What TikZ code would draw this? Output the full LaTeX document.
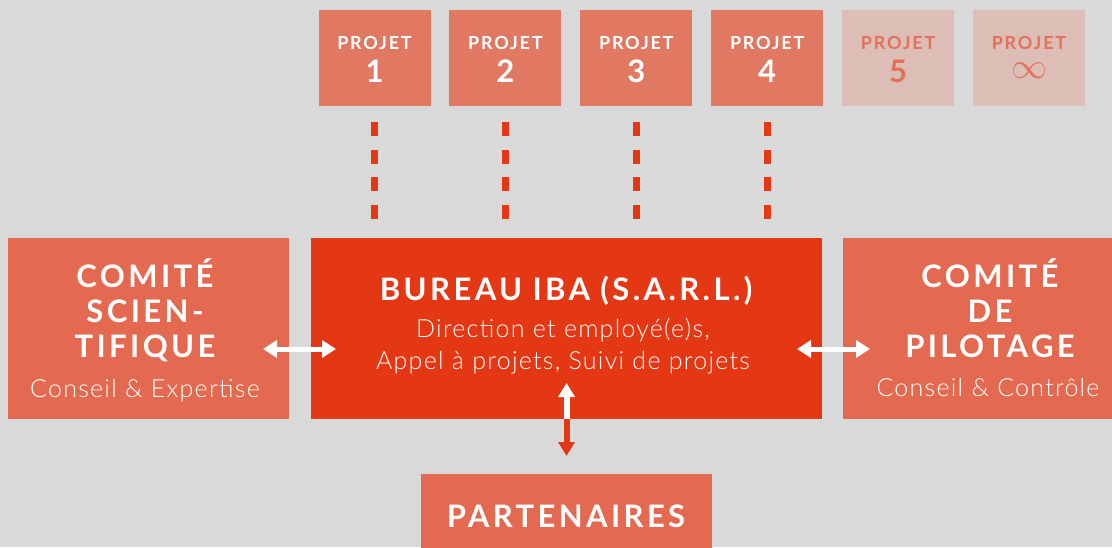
\documentclass[tikz,border=0pt]{standalone}
\usepackage{fontspec}
\setmainfont{Lato}
\newfontfamily\lightfont{Lato Light}
\usetikzlibrary{arrows.meta,calc,positioning}
\definecolor{bgc}{HTML}{D9D9D9}
\definecolor{projc}{HTML}{E07862}
\definecolor{fadec}{HTML}{DCBEB7}
\definecolor{fadetxt}{HTML}{E4705A}
\definecolor{sidec}{HTML}{E36A50}
\definecolor{bureauc}{HTML}{E43815}
\tikzset{
  blk/.style={fill=#1, inner sep=0pt, outer sep=0pt},
  headtxt/.style={text=white, inner sep=0pt, align=center, text width=280pt,
    font=\fontsize{31}{35}\selectfont\bfseries\addfontfeature{LetterSpace=11}},
  subtxt/.style={text=white, inner sep=0pt, align=center, text width=440pt,
    font=\lightfont\fontsize{25}{32}\selectfont\addfontfeature{LetterSpace=5}},
  projtxt/.style={inner sep=0pt, font=\fontsize{18}{18}\selectfont\bfseries\addfontfeature{LetterSpace=10}},
  projnum/.style={inner sep=0pt, font=\fontsize{31}{31}\selectfont\bfseries},
  dbl/.style={white, line width=5pt, {Triangle[length=14pt,width=17pt]}-{Triangle[length=14pt,width=17pt]}},
  tie/.style={bureauc, line width=7pt, dash pattern=on 14pt off 13.5pt},
}
\begin{document}
\begin{tikzpicture}[x=1pt,y=-1pt]
\fill[bgc] (0,0) rectangle (1112,547);
\clip (0,0) rectangle (1112,547);

% projets
\foreach \i/\c/\t in {1/projc/white,2/projc/white,3/projc/white,4/projc/white,5/fadec/fadetxt} {
  \pgfmathsetmacro\x{374.5+130.9*(\i-1)}
  \node[blk=\c, minimum width=112pt, minimum height=96pt] (p\i) at (\x,58) {};
  \node[projtxt, text=\t, anchor=base] (pt\i) at (\x,49) {PROJET};
  \node[projnum, text=\t, anchor=base] (pn\i) at (\x,82) {\i};
}
\node[blk=fadec, minimum width=112pt, minimum height=96pt] (p6) at (1029,58) {};
\node[projtxt, text=fadetxt, anchor=base] (pt6) at (p6 |- pt5.base) {PROJET};
\node[inner sep=0pt, text=fadetxt, scale=3.6, anchor=base] (pn6) at ($(p6 |- pn5.base)+(0,-3.5)$) {$\infty$};

% blocs
\node[blk=sidec, minimum width=281pt, minimum height=181pt] (comsci) at (148.5,328.5) {};
\node[blk=bureauc, minimum width=511pt, minimum height=181pt] (bureau) at (566.5,328.5) {};
\node[blk=sidec, minimum width=290pt, minimum height=181pt] (compil) at (988,328.5) {};
\node[blk=sidec, minimum width=291pt, minimum height=100pt] (partners) at (566.5,524) {};

\node[headtxt, anchor=base] (comscit) at (145,287) {COMITÉ\\SCIEN-\\TIFIQUE};
\node[subtxt, anchor=base] (comscis) at (145,397) {Conseil \& Expertise};
\node[headtxt, text width=500pt, anchor=base] (bureaut) at (566,300) {BUREAU IBA (S.A.R.L.)};
\node[subtxt, anchor=base] (bureaus) at (563,337) {Direction et employé(e)s,\\Appel à projets, Suivi de projets};
\node[headtxt, anchor=base] (compilt) at (990,287) {COMITÉ\\DE\\PILOTAGE};
\node[subtxt, anchor=base] (compils) at (988,396) {Conseil \& Contrôle};
\node[headtxt, anchor=base] (partnerst) at (566,527) {PARTENAIRES};

% liens
\foreach \i in {1,...,4}
  \draw[tie] ($(p\i.south)+(0,16)$) -- ($(p\i.south |- bureau.north)+(0,-19)$);
\draw[dbl] ($(comsci.east)+(-26,20.5)$) -- ($(bureau.west)+(25,20.5)$);
\draw[dbl] ($(bureau.east)+(-25,20.5)$) -- ($(compil.west)+(27,20.5)$);
\draw[white, line width=6pt, -{Triangle[length=14pt,width=16pt]}] (bureau.south) -- ++(0,-36);
\draw[bureauc, line width=6pt, -{Triangle[length=14pt,width=16pt]}] (bureau.south) -- ($(partners.north)+(0,-18)$);
\end{tikzpicture}
\end{document}
